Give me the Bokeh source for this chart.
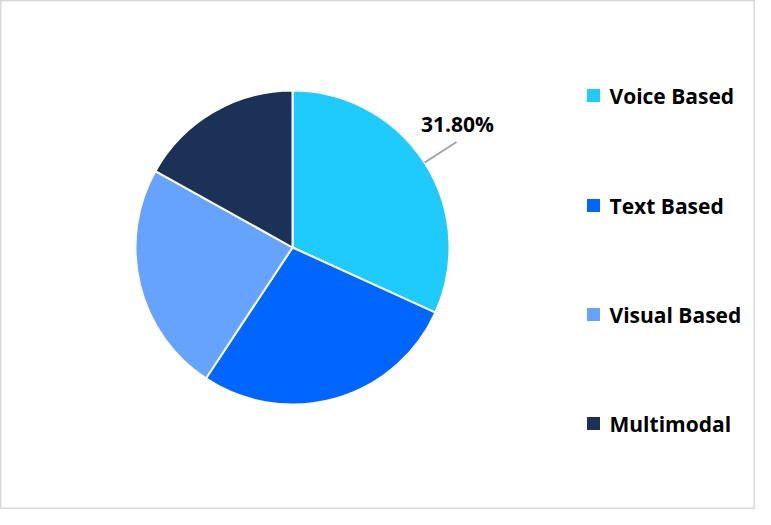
import math
from bokeh.plotting import figure
from bokeh.models import ColumnDataSource, Range1d
from bokeh.core.properties import value
from bokeh.embed import file_html
from bokeh.resources import INLINE

categories = ["Voice Based", "Text Based", "Visual Based", "Multimodal"]
shares = [31.8, 27.5, 23.8, 16.9]
colors = ["#1FCAFD", "#0066FF", "#66A3FF", "#1B3156"]
shown_label = "31.80%"

W, H = 755, 509
p = figure(width=W, height=H, output_backend="svg", toolbar_location=None,
           x_range=Range1d(0, W), y_range=Range1d(0, H), min_border=0)
p.axis.visible = False
p.grid.visible = False
p.outline_line_color = "#D9D9D9"
p.outline_line_width = 2
p.background_fill_color = "white"
p.border_fill_color = "white"

cx, cy, r = 292, 262, 157
total = sum(shares)
starts, ends = [], []
cum = 0.0
for s in shares:
    a0 = math.pi / 2 - 2 * math.pi * cum / total
    cum += s
    a1 = math.pi / 2 - 2 * math.pi * cum / total
    starts.append(a1)
    ends.append(a0)

src = ColumnDataSource(dict(cat=categories, val=shares, color=colors,
                            start=starts, end=ends))
p.wedge(x=cx, y=cy, radius=r, radius_units="screen", start_angle="start",
        end_angle="end", direction="anticlock", fill_color="color",
        line_color="white", line_width=2, source=src)

# leader line + label for first slice
mid = (starts[0] + ends[0]) / 2
x0, y0 = cx + r * math.cos(mid), cy + r * math.sin(mid)
x1, y1 = cx + (r + 38) * math.cos(mid), cy + (r + 38) * math.sin(mid)
p.line([x0, x1], [y0, y1], line_color="#A6A6A6", line_width=2)
p.text(x=[x1 + 1], y=[y1 + 18], text=[shown_label], text_font=value("Open Sans"),
       text_font_style="bold", text_font_size="21px", text_color="#000000",
       text_align="center", text_baseline="middle")

# legend
leg_y = [414, 304, 195, 86]
p.scatter(x=[593] * 4, y=leg_y, marker="square", size=13, fill_color=colors,
          line_color=None)
p.text(x=[609] * 4, y=leg_y, text=categories, text_font=value("Open Sans"),
       text_font_style="bold", text_font_size="21px", text_color="#000000",
       text_align="left", text_baseline="middle")

open("out.html", "w").write(file_html(p, INLINE))
